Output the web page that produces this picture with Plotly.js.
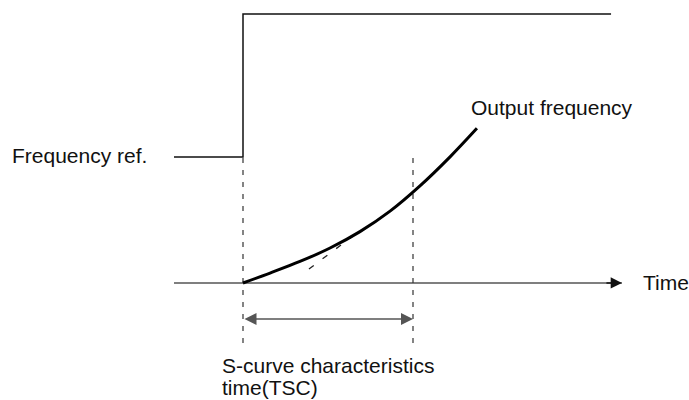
<!DOCTYPE html>
<html>
<head>
<meta charset="utf-8">
<script src="https://cdn.plot.ly/plotly-3.0.1.min.js"></script>
<style>html,body{margin:0;padding:0;background:#fff}#chart{width:689px;height:400px}</style>
</head>
<body>
<div id="chart"></div>
<script>
// Time in units of the S-curve time (TSC = 1); frequency in % of the final reference.
var refTime = [-0.406, 0, 0, 2.165];
var refFreq = [46.8, 46.8, 100, 100];

var outTime = [0, 0.159, 0.335, 0.512, 0.688, 0.865, 1.041, 1.218, 1.376];
var outFreq = [0, 3.7, 8.0, 13.0, 19.1, 26.7, 36.1, 46.9, 57.5];

var tangentTime = [0.388, 0.671];
var tangentFreq = [5.2, 18.6];

var axisTime = [-0.406, 2.229];
var tscStart = 0, tscEnd = 1;
var guideFreq = [46.5, -23];
var spanFreq = -13.4;

var labels = {
  ref: "Frequency ref.",
  out: "Output frequency",
  time: "Time",
  tsc1: "S-curve characteristics",
  tsc2: "time(TSC)"
};

var ink = "#111111";
var grey = "#555555";
var font = {family: "Liberation Sans, Arial, sans-serif", size: 21, color: "#111"};

var traces = [
  {x: axisTime, y: [0, 0], mode: "lines", line: {color: grey, width: 1.5}, hoverinfo: "skip"},
  {x: refTime, y: refFreq, mode: "lines", line: {color: ink, width: 1.5}, hoverinfo: "skip"},
  {x: [tscStart, tscStart], y: guideFreq, mode: "lines", line: {color: "#333", width: 1.2, dash: "5px,7px"}, hoverinfo: "skip"},
  {x: [tscEnd, tscEnd], y: guideFreq, mode: "lines", line: {color: "#333", width: 1.2, dash: "5px,7px"}, hoverinfo: "skip"},
  {x: tangentTime, y: tangentFreq, mode: "lines", line: {color: "#222", width: 1.3, dash: "6px,11px"}, hoverinfo: "skip"},
  {x: outTime, y: outFreq, mode: "lines", line: {color: "#000", width: 3, shape: "spline", smoothing: 1}, hoverinfo: "skip"}
];

var layout = {
  width: 689, height: 400,
  margin: {l: 0, r: 0, t: 0, b: 0},
  paper_bgcolor: "#fff", plot_bgcolor: "#fff",
  showlegend: false,
  xaxis: {range: [-1.4294, 2.6235], visible: false, fixedrange: true},
  yaxis: {range: [-43.5, 105.2], visible: false, fixedrange: true},
  annotations: [
    {x: axisTime[1], y: 0, ax: axisTime[1] - 0.1, ay: 0, axref: "x", ayref: "y", xref: "x", yref: "y",
     text: "", showarrow: true, arrowhead: 2, arrowsize: 1.5, arrowwidth: 1.5, arrowcolor: ink, standoff: 0},
    {x: tscEnd, y: spanFreq, ax: tscStart, ay: spanFreq, axref: "x", ayref: "y", xref: "x", yref: "y",
     text: "", showarrow: true, arrowhead: 2, startarrowhead: 2, arrowside: "end+start", arrowsize: 1.6, startarrowsize: 1.6,
     arrowwidth: 1.5, arrowcolor: grey, standoff: 0, startstandoff: 0},
    {x: -1.369, y: 47.5, xref: "x", yref: "y", xanchor: "left", yanchor: "middle", text: labels.ref, showarrow: false, font: font},
    {x: 1.327, y: 65.4, xref: "x", yref: "y", xanchor: "left", yanchor: "middle", text: labels.out, showarrow: false, font: font},
    {x: 2.339, y: 0, xref: "x", yref: "y", xanchor: "left", yanchor: "middle", text: labels.time, showarrow: false, font: font},
    {x: -0.138, y: -30.5, xref: "x", yref: "y", xanchor: "left", yanchor: "middle", text: labels.tsc1, showarrow: false, font: font},
    {x: -0.138, y: -39.0, xref: "x", yref: "y", xanchor: "left", yanchor: "middle", text: labels.tsc2, showarrow: false, font: font}
  ]
};

Plotly.newPlot("chart", traces, layout, {staticPlot: true, displayModeBar: false});
</script>
</body>
</html>
